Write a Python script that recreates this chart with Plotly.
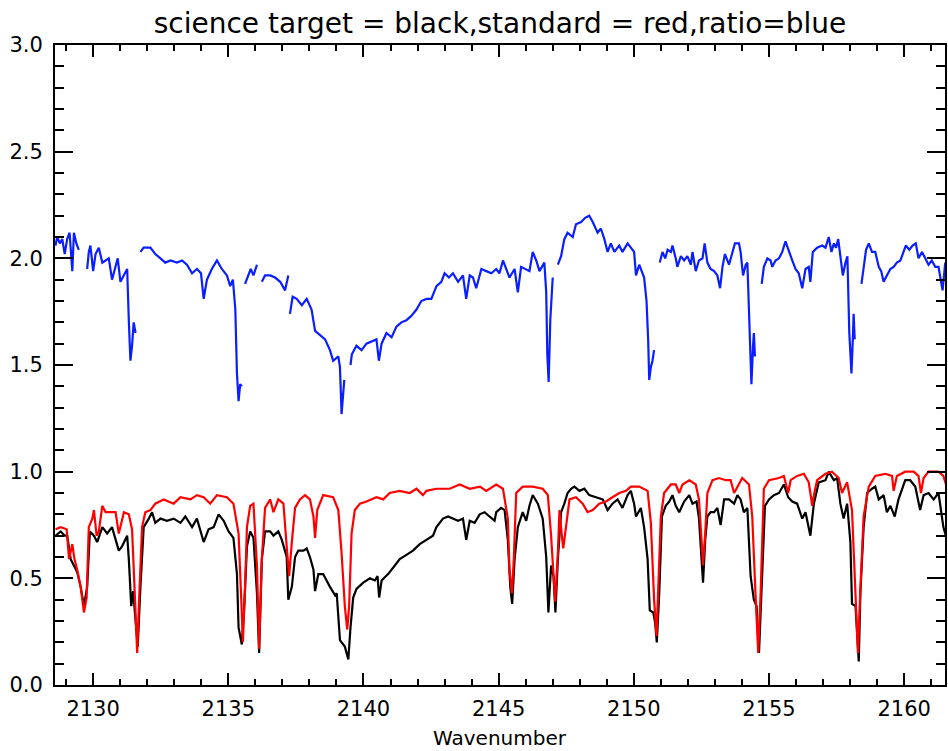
import plotly.graph_objects as go

# ---- data ----
blue_x = [2128.61, 2128.67, 2128.77, 2128.86, 2128.95, 2129.04, 2129.13, 2129.23, 2129.29, 2129.38, 2129.47, None,
          2129.78, 2129.84, 2129.90, 2130.00, 2130.09, 2130.21, 2130.34, 2130.46, 2130.58, 2130.70, 2130.83, 2130.91,
          2131.01, 2131.13, 2131.26, 2131.32, 2131.38, 2131.44, 2131.50, 2131.57, None,
          2131.75, 2131.87, 2132.12, 2132.30, 2132.49, 2132.67, 2132.86, 2133.10, 2133.29, 2133.47, 2133.66, 2133.84,
          2133.99, 2134.09, 2134.21, 2134.39, 2134.58, 2134.76, 2134.95, 2135.07, 2135.17, 2135.26, 2135.32, 2135.38,
          2135.44, 2135.50, None,
          2135.62, 2135.75, 2135.83, 2135.93, 2136.06, None,
          2136.24, 2136.36, 2136.55, 2136.73, 2136.92, 2137.10, 2137.22, None,
          2137.28, 2137.38, 2137.53, 2137.72, 2137.90, 2138.08, 2138.21, 2138.39, 2138.58, 2138.76, 2138.88, 2139.07,
          2139.13, 2139.19, 2139.25, 2139.29, None,
          2139.52, 2139.57, 2139.74, 2139.93, 2140.11, 2140.30, 2140.48, 2140.57, 2140.67, 2140.85, 2141.04, 2141.22,
          2141.40, 2141.59, 2141.77, 2141.96, 2142.14, 2142.33, 2142.51, 2142.70, 2142.88, 2143.00, 2143.16, 2143.31,
          2143.50, 2143.68, 2143.80, 2143.93, 2144.05, 2144.17, 2144.36, 2144.54, 2144.73, 2144.91, 2145.03, 2145.16,
          2145.28, 2145.40, 2145.59, 2145.71, 2145.83, 2146.02, 2146.14, 2146.26, 2146.39, 2146.51, 2146.69, 2146.76,
          2146.80, 2146.85, 2146.91, 2147.00, None,
          2147.19, 2147.31, 2147.43, 2147.55, 2147.74, 2147.86, 2148.05, 2148.20, 2148.35, 2148.48, 2148.66, 2148.78,
          2148.91, 2149.03, 2149.15, 2149.28, 2149.46, 2149.58, 2149.77, 2149.89, 2150.01, 2150.08, 2150.20, 2150.38,
          2150.47, 2150.53, 2150.57, 2150.63, 2150.69, 2150.75, None,
          2150.96, 2151.06, 2151.16, 2151.25, 2151.37, 2151.43, 2151.55, 2151.61, 2151.74, 2151.86, 2151.98, 2152.11,
          2152.17, 2152.29, 2152.41, 2152.54, 2152.62, 2152.72, 2152.84, 2152.97, 2153.09, 2153.19, 2153.28, 2153.37,
          2153.52, 2153.64, 2153.74, 2153.89, 2153.95, 2154.04, 2154.14, 2154.20, 2154.26, 2154.31, 2154.35, 2154.41,
          2154.44, 2154.48, None,
          2154.73, 2154.81, 2154.94, 2155.06, 2155.12, 2155.24, 2155.37, 2155.49, 2155.61, 2155.74, 2155.86, 2155.98,
          2156.10, 2156.23, 2156.35, 2156.47, 2156.53, 2156.62, 2156.78, 2156.97, 2157.09, 2157.21, 2157.31, 2157.40,
          2157.48, 2157.56, 2157.64, 2157.73, 2157.83, 2157.90, 2157.97, 2158.05, 2158.10, 2158.13, 2158.17, None,
          2158.42, 2158.50, 2158.59, 2158.69, 2158.81, 2158.93, 2159.06, 2159.15, 2159.24, 2159.36, 2159.49, 2159.61,
          2159.73, 2159.86, 2159.98, 2160.06, 2160.19, 2160.31, 2160.43, 2160.53, 2160.66, 2160.78, 2160.90, 2161.02,
          2161.15, 2161.27, 2161.42, 2161.52]
blue_y = [2.06, 2.10, 2.07, 2.09, 2.02, 2.09, 2.12, 1.94, 2.12, 2.07, 2.04, None,
          1.95, 2.03, 2.06, 1.94, 2.02, 2.05, 1.98, 1.99, 2.00, 1.90, 1.96, 2.00,
          1.89, 1.92, 1.95, 1.71, 1.52, 1.59, 1.70, 1.65, None,
          2.03, 2.05, 2.05, 2.02, 2.00, 1.98, 1.99, 1.98, 1.99, 1.97, 1.93, 1.95,
          1.93, 1.81, 1.90, 1.95, 1.99, 1.95, 1.92, 1.87, 1.90, 1.76, 1.46, 1.33,
          1.41, 1.40, None,
          1.88, 1.93, 1.95, 1.92, 1.97, None,
          1.89, 1.92, 1.92, 1.91, 1.89, 1.85, 1.92, None,
          1.74, 1.82, 1.81, 1.78, 1.81, 1.76, 1.66, 1.64, 1.62, 1.57, 1.52, 1.54,
          1.49, 1.27, 1.36, 1.43, None,
          1.50, 1.55, 1.59, 1.57, 1.60, 1.61, 1.62, 1.52, 1.60, 1.65, 1.63, 1.68,
          1.70, 1.71, 1.73, 1.76, 1.80, 1.81, 1.81, 1.87, 1.89, 1.93, 1.91, 1.93,
          1.89, 1.92, 1.81, 1.92, 1.91, 1.86, 1.95, 1.94, 1.93, 1.95, 1.93, 1.99,
          1.95, 1.91, 1.95, 1.84, 1.96, 1.95, 1.94, 2.03, 1.99, 1.94, 1.98, 1.84,
          1.55, 1.42, 1.71, 1.91, None,
          1.97, 2.01, 2.09, 2.12, 2.10, 2.16, 2.17, 2.19, 2.20, 2.17, 2.12, 2.14,
          2.09, 2.03, 2.07, 2.03, 2.06, 2.03, 2.07, 2.05, 2.03, 1.92, 1.97, 1.91,
          1.80, 1.62, 1.43, 1.49, 1.52, 1.57, None,
          1.98, 2.03, 2.00, 2.04, 2.03, 2.06, 2.00, 1.96, 2.01, 1.99, 2.01, 1.97,
          2.03, 1.94, 1.99, 2.00, 2.07, 1.98, 1.95, 1.94, 1.92, 1.86, 1.96, 2.02,
          1.97, 2.02, 2.07, 2.07, 2.03, 1.92, 1.97, 1.98, 1.77, 1.57, 1.41, 1.59,
          1.65, 1.54, None,
          1.88, 1.96, 2.00, 1.99, 1.96, 1.99, 2.00, 2.03, 2.08, 2.03, 1.99, 1.95,
          1.93, 1.86, 1.95, 1.96, 1.89, 2.03, 2.05, 2.06, 2.05, 2.10, 2.03, 2.07,
          2.05, 2.09, 2.01, 1.92, 1.98, 2.01, 1.65, 1.46, 1.62, 1.74, 1.62, None,
          1.88, 1.96, 2.04, 2.07, 2.03, 2.03, 1.96, 1.94, 1.89, 1.92, 1.95, 1.96,
          1.98, 1.99, 2.03, 2.06, 2.04, 2.06, 2.07, 2.00, 2.03, 2.00, 1.97, 1.99,
          1.96, 1.96, 1.85, 1.98]

red_x = [2128.61, 2128.80, 2129.02, 2129.11, 2129.23, 2129.31, 2129.41, 2129.54, 2129.66, 2129.76, 2129.84, 2129.97,
         2130.03, 2130.13, 2130.21, 2130.34, 2130.46, 2130.64, 2130.83, 2130.95, 2131.14, 2131.32, 2131.44, 2131.54,
         2131.63, 2131.71, 2131.81, 2131.93, 2132.12, 2132.30, 2132.61, 2132.98, 2133.23, 2133.60, 2133.84, 2134.09,
         2134.33, 2134.58, 2134.95, 2135.19, 2135.38, 2135.48, 2135.54, 2135.62, 2135.69, 2135.81, 2135.93, 2136.06,
         2136.14, 2136.24, 2136.36, 2136.55, 2136.67, 2136.85, 2137.04, 2137.16, 2137.25, 2137.35, 2137.47, 2137.65,
         2137.84, 2138.02, 2138.15, 2138.21, 2138.29, 2138.51, 2138.88, 2139.07, 2139.19, 2139.31, 2139.40, 2139.47,
         2139.56, 2139.68, 2139.87, 2140.11, 2140.48, 2140.73, 2140.97, 2141.34, 2141.71, 2141.96, 2142.20, 2142.33,
         2142.70, 2143.19, 2143.56, 2143.93, 2144.31, 2144.54, 2144.91, 2145.16, 2145.34, 2145.40, 2145.49, 2145.56,
         2145.65, 2145.89, 2146.26, 2146.63, 2146.82, 2146.94, 2147.03, 2147.09, 2147.19, 2147.25, 2147.33, 2147.39,
         2147.49, 2147.62, 2147.86, 2148.11, 2148.29, 2148.48, 2148.72, 2148.97, 2149.21, 2149.46, 2149.71, 2149.89,
         2150.20, 2150.51, 2150.63, 2150.75, 2150.84, 2150.91, 2151.00, 2151.12, 2151.37, 2151.55, 2151.68, 2151.80,
         2152.05, 2152.29, 2152.41, 2152.51, 2152.56, 2152.64, 2152.72, 2152.91, 2153.15, 2153.40, 2153.58, 2153.71,
         2153.83, 2154.01, 2154.26, 2154.38, 2154.50, 2154.60, 2154.69, 2154.81, 2155.00, 2155.37, 2155.55, 2155.71,
         2155.80, 2156.04, 2156.29, 2156.47, 2156.60, 2156.66, 2156.78, 2157.09, 2157.33, 2157.58, 2157.70, 2157.89,
         2158.07, 2158.20, 2158.29, 2158.38, 2158.50, 2158.69, 2158.93, 2159.30, 2159.55, 2159.61, 2159.73, 2160.04,
         2160.35, 2160.53, 2160.62, 2160.72, 2160.90, 2161.27, 2161.45, 2161.57]
red_y = [0.73, 0.74, 0.73, 0.59, 0.66, 0.59, 0.54, 0.46, 0.34, 0.41, 0.74, 0.78,
         0.82, 0.70, 0.72, 0.84, 0.81, 0.81, 0.81, 0.71, 0.81, 0.80, 0.73, 0.43,
         0.15, 0.43, 0.74, 0.81, 0.82, 0.85, 0.87, 0.85, 0.88, 0.87, 0.89, 0.88,
         0.85, 0.89, 0.88, 0.85, 0.71, 0.40, 0.20, 0.46, 0.74, 0.84, 0.85, 0.56,
         0.17, 0.59, 0.83, 0.87, 0.81, 0.87, 0.85, 0.65, 0.51, 0.67, 0.83, 0.87,
         0.89, 0.87, 0.79, 0.69, 0.82, 0.89, 0.88, 0.82, 0.62, 0.37, 0.26, 0.37,
         0.71, 0.82, 0.85, 0.86, 0.88, 0.87, 0.90, 0.91, 0.90, 0.92, 0.89, 0.91,
         0.92, 0.92, 0.94, 0.92, 0.93, 0.91, 0.94, 0.92, 0.78, 0.54, 0.43, 0.59,
         0.90, 0.93, 0.93, 0.92, 0.89, 0.70, 0.51, 0.39, 0.62, 0.82, 0.71, 0.64,
         0.74, 0.87, 0.88, 0.85, 0.81, 0.82, 0.85, 0.86, 0.88, 0.90, 0.91, 0.93,
         0.93, 0.91, 0.76, 0.40, 0.23, 0.45, 0.79, 0.90, 0.94, 0.94, 0.90, 0.94,
         0.96, 0.94, 0.87, 0.67, 0.56, 0.71, 0.90, 0.96, 0.97, 0.96, 0.96, 0.90,
         0.93, 0.97, 0.94, 0.79, 0.43, 0.15, 0.43, 0.92, 0.96, 0.97, 0.98, 0.90,
         0.96, 0.98, 0.99, 0.95, 0.84, 0.89, 0.96, 0.99, 1.00, 0.97, 0.90, 0.95,
         0.82, 0.43, 0.15, 0.45, 0.79, 0.93, 0.98, 0.99, 0.98, 0.91, 0.98, 1.00,
         1.00, 0.98, 0.90, 0.97, 1.00, 1.00, 0.98, 0.93]

black_x = [2128.61, 2128.80, 2128.95, 2129.04, 2129.17, 2129.29, 2129.41, 2129.54, 2129.66, 2129.78, 2129.88, 2130.03,
           2130.15, 2130.34, 2130.52, 2130.70, 2130.83, 2130.95, 2131.07, 2131.26, 2131.32, 2131.41, 2131.48, 2131.57,
           2131.65, 2131.75, 2131.87, 2132.06, 2132.18, 2132.30, 2132.49, 2132.73, 2132.98, 2133.23, 2133.41, 2133.66,
           2133.84, 2134.09, 2134.27, 2134.46, 2134.64, 2134.83, 2135.01, 2135.19, 2135.32, 2135.38, 2135.50, 2135.59,
           2135.69, 2135.81, 2135.93, 2136.06, 2136.14, 2136.24, 2136.36, 2136.55, 2136.67, 2136.85, 2136.98, 2137.16,
           2137.22, 2137.35, 2137.47, 2137.59, 2137.78, 2137.90, 2138.02, 2138.15, 2138.21, 2138.33, 2138.51, 2138.76,
           2138.95, 2139.01, 2139.13, 2139.31, 2139.44, 2139.52, 2139.62, 2139.74, 2139.99, 2140.24, 2140.42, 2140.52,
           2140.58, 2140.67, 2140.91, 2141.16, 2141.34, 2141.59, 2141.83, 2142.08, 2142.33, 2142.57, 2142.70, 2142.94,
           2143.13, 2143.31, 2143.50, 2143.68, 2143.80, 2143.93, 2144.11, 2144.30, 2144.48, 2144.66, 2144.85, 2144.91,
           2145.09, 2145.22, 2145.34, 2145.43, 2145.50, 2145.59, 2145.71, 2145.89, 2146.02, 2146.14, 2146.26, 2146.45,
           2146.63, 2146.76, 2146.84, 2146.94, 2147.03, 2147.10, 2147.19, 2147.31, 2147.43, 2147.55, 2147.68, 2147.80,
           2147.99, 2148.17, 2148.35, 2148.60, 2148.85, 2149.03, 2149.21, 2149.40, 2149.58, 2149.77, 2149.89, 2150.01,
           2150.08, 2150.26, 2150.38, 2150.51, 2150.59, 2150.72, 2150.79, 2150.85, 2150.94, 2151.04, 2151.18, 2151.31,
           2151.43, 2151.55, 2151.68, 2151.86, 2152.05, 2152.17, 2152.32, 2152.41, 2152.48, 2152.56, 2152.64, 2152.72,
           2152.84, 2152.97, 2153.09, 2153.21, 2153.34, 2153.52, 2153.71, 2153.83, 2153.95, 2154.07, 2154.20, 2154.32,
           2154.44, 2154.54, 2154.63, 2154.73, 2154.85, 2155.00, 2155.18, 2155.37, 2155.55, 2155.71, 2155.86, 2156.04,
           2156.23, 2156.35, 2156.53, 2156.66, 2156.84, 2157.09, 2157.21, 2157.40, 2157.52, 2157.64, 2157.76, 2157.89,
           2158.01, 2158.07, 2158.20, 2158.32, 2158.38, 2158.50, 2158.63, 2158.81, 2158.93, 2159.06, 2159.24, 2159.36,
           2159.49, 2159.65, 2159.79, 2160.04, 2160.22, 2160.41, 2160.59, 2160.72, 2160.90, 2161.09, 2161.27, 2161.45,
           2161.54]
black_y = [0.70, 0.72, 0.70, 0.70, 0.59, 0.56, 0.53, 0.46, 0.37, 0.46, 0.72, 0.70,
           0.67, 0.74, 0.71, 0.74, 0.68, 0.63, 0.65, 0.70, 0.59, 0.37, 0.44, 0.30,
           0.18, 0.46, 0.74, 0.78, 0.81, 0.76, 0.78, 0.77, 0.78, 0.76, 0.79, 0.74,
           0.78, 0.67, 0.73, 0.74, 0.80, 0.77, 0.72, 0.69, 0.52, 0.27, 0.19, 0.37,
           0.65, 0.72, 0.69, 0.43, 0.15, 0.59, 0.72, 0.72, 0.70, 0.72, 0.68, 0.60,
           0.40, 0.46, 0.60, 0.63, 0.63, 0.64, 0.60, 0.54, 0.44, 0.52, 0.52, 0.46,
           0.42, 0.43, 0.21, 0.18, 0.12, 0.27, 0.41, 0.45, 0.48, 0.50, 0.49, 0.51,
           0.41, 0.49, 0.52, 0.56, 0.59, 0.61, 0.63, 0.66, 0.68, 0.70, 0.74, 0.78,
           0.79, 0.78, 0.77, 0.78, 0.68, 0.77, 0.76, 0.80, 0.81, 0.79, 0.77, 0.81,
           0.83, 0.82, 0.68, 0.46, 0.38, 0.59, 0.74, 0.81, 0.77, 0.84, 0.89, 0.85,
           0.78, 0.60, 0.34, 0.56, 0.51, 0.34, 0.59, 0.81, 0.85, 0.90, 0.92, 0.93,
           0.91, 0.92, 0.89, 0.88, 0.87, 0.82, 0.85, 0.87, 0.83, 0.89, 0.91, 0.85,
           0.79, 0.83, 0.74, 0.59, 0.35, 0.34, 0.29, 0.20, 0.43, 0.79, 0.84, 0.86,
           0.89, 0.84, 0.81, 0.86, 0.89, 0.85, 0.86, 0.78, 0.63, 0.48, 0.68, 0.79,
           0.81, 0.81, 0.83, 0.75, 0.87, 0.87, 0.85, 0.89, 0.87, 0.81, 0.83, 0.51,
           0.40, 0.37, 0.15, 0.48, 0.84, 0.87, 0.89, 0.90, 0.94, 0.88, 0.86, 0.85,
           0.78, 0.81, 0.70, 0.85, 0.95, 0.96, 1.00, 0.96, 0.97, 0.85, 0.78, 0.85,
           0.67, 0.38, 0.37, 0.11, 0.43, 0.74, 0.90, 0.92, 0.93, 0.87, 0.89, 0.81,
           0.84, 0.79, 0.87, 0.96, 0.96, 0.93, 0.82, 0.89, 0.90, 0.87, 0.90, 0.74,
           0.70]

x_ticks = [2130, 2135, 2140, 2145, 2150, 2155, 2160]
y_ticks = [0.0, 0.5, 1.0, 1.5, 2.0, 2.5, 3.0]
title_text = "science target = black,standard = red,ratio=blue"
x_label = "Wavenumber"

FONT = "DejaVu Sans"

fig = go.Figure()
fig.add_trace(go.Scatter(x=black_x, y=black_y, mode="lines",
                         line=dict(color="black", width=2.2), showlegend=False))
fig.add_trace(go.Scatter(x=red_x, y=red_y, mode="lines",
                         line=dict(color="rgb(255,0,0)", width=2.2), showlegend=False))
fig.add_trace(go.Scatter(x=blue_x, y=blue_y, mode="lines", connectgaps=False,
                         line=dict(color="rgb(10,30,255)", width=2.2), showlegend=False))

axis_common = dict(showgrid=False, zeroline=False, showline=True, linecolor="black",
                   linewidth=2, mirror="allticks", ticks="inside", tickcolor="black",
                   tickwidth=1.5, tickfont=dict(family=FONT, size=21, color="black"))

fig.update_xaxes(range=[2128.59, 2161.51], tickvals=x_ticks, ticktext=[str(v) for v in x_ticks],
                 ticklen=12, ticklabelstandoff=4,
                 minor=dict(ticks="inside", dtick=1, tick0=2130, ticklen=6, tickcolor="black", tickwidth=1.5),
                 **axis_common)
fig.update_yaxes(range=[0, 3.0], tickvals=y_ticks, ticktext=[f"{v:.1f}" for v in y_ticks],
                 ticklen=18, ticklabelstandoff=6,
                 minor=dict(ticks="inside", dtick=0.1, tick0=0, ticklen=9, tickcolor="black", tickwidth=1.5),
                 **axis_common)

fig.update_layout(
    width=948, height=751,
    margin=dict(l=55, r=1, t=45, b=66),
    paper_bgcolor="white", plot_bgcolor="white",
    title=dict(text=title_text, x=0.5, xref="paper", y=1 - 23 / 751, yref="container",
               xanchor="center", yanchor="middle",
               font=dict(family=FONT, size=28, color="black")),
    annotations=[dict(text=x_label, xref="paper", yref="paper", x=0.5, y=0,
                      xanchor="center", yanchor="middle", yshift=-53, showarrow=False,
                      font=dict(family=FONT, size=20, color="black"))],
)

fig.write_html("out.html")
